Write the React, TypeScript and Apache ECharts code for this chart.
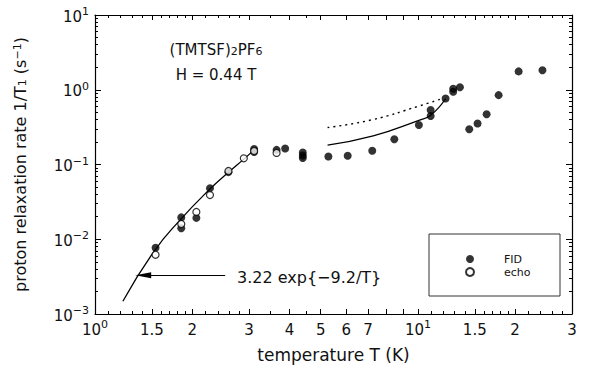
import React, { useEffect, useRef } from 'react';
import * as echarts from 'echarts';

// FID (filled) measurements: temperature (K), 1/T1 (s^-1)
const fidT = [1.54, 1.85, 1.85, 2.06, 2.27, 2.59, 3.11, 3.11, 3.65, 3.88, 4.4, 4.4, 4.4, 5.28, 6.06, 7.22, 8.45, 10.07, 10.95, 10.95, 12.18, 12.86, 12.86, 13.49, 14.42, 15.3, 16.32, 17.78, 20.5, 24.3];
const fidRate = [0.0077, 0.0196, 0.014, 0.0193, 0.048, 0.079, 0.161, 0.147, 0.157, 0.164, 0.145, 0.132, 0.122, 0.128, 0.131, 0.153, 0.218, 0.338, 0.445, 0.535, 0.765, 0.94, 1.03, 1.08, 0.296, 0.353, 0.469, 0.847, 1.76, 1.82];

// echo (open) measurements
const echoT = [1.54, 1.85, 2.06, 2.27, 2.59, 2.89, 3.11, 3.65];
const echoRate = [0.0062, 0.016, 0.0232, 0.039, 0.082, 0.121, 0.152, 0.143];

// fit curve 3.22 exp(-9.2/T)
const fitT = [1.22, 1.52, 1.83, 2.27, 2.59, 2.89, 3.11];
const fitRate = [0.00148, 0.0068, 0.0179, 0.047, 0.0787, 0.118, 0.157];

// upper solid and dotted curves
const solidT = [5.25, 7.27, 10.07, 10.95, 12.18];
const solidRate = [0.182, 0.241, 0.39, 0.455, 0.758];
const dotT = [5.25, 7.27, 10.07, 11.84];
const dotRate = [0.312, 0.4, 0.605, 0.758];

// annotation arrow
const arrowFromT = 2.53;
const arrowToT = 1.41;
const arrowRate = 0.0033;

// ticks
const xTickValues = [1, 1.5, 2, 3, 4, 5, 6, 7, 10, 15, 20, 30];
const xTickLabels = ['10^0', '1.5', '2', '3', '4', '5', '6', '7', '10^1', '1.5', '2', '3'];
const xMajorTicks = [1, 1.5, 2, 3, 4, 5, 6, 7, 8, 9, 10, 15, 20, 30];
const xMinorTicks = [1.1, 1.2, 1.3, 1.4, 1.6, 1.7, 1.8, 1.9, 2.2, 2.4, 2.6, 2.8, 3.5, 4.5, 11, 12, 13, 14, 16, 17, 18, 19, 22, 24, 26, 28];
const yTickValues = [0.001, 0.01, 0.1, 1, 10];
const yTickLabels = ['10^−3', '10^−2', '10^−1', '10^0', '10^1'];
const yMinorTicks = [0.002, 0.003, 0.004, 0.005, 0.006, 0.007, 0.008, 0.009, 0.02, 0.03, 0.04, 0.05, 0.06, 0.07, 0.08, 0.09, 0.2, 0.3, 0.4, 0.5, 0.6, 0.7, 0.8, 0.9, 2, 3, 4, 5, 6, 7, 8, 9];

const FONT = '"DejaVu Sans", "Liberation Sans", sans-serif';
const INK = '#111';

function toRich(label: string): string {
  const i = label.indexOf('^');
  if (i < 0) return '{b|' + label + '}';
  return '{b|' + label.slice(0, i) + '}{sup|' + label.slice(i + 1) + '}';
}

function lookup(values: number[], labels: string[], v: number): string {
  const i = values.findIndex((t) => Math.abs(t - v) / t < 1e-4);
  return i < 0 ? '' : toRich(labels[i]);
}

const labelRich = {
  b: { fontSize: 15, fontFamily: FONT, color: INK, lineHeight: 18, verticalAlign: 'bottom' },
  sup: { fontSize: 11, fontFamily: FONT, color: INK, lineHeight: 8, verticalAlign: 'top' },
};

export default function App() {
  const ref = useRef<HTMLDivElement>(null);
  useEffect(() => {
    if (!ref.current) return;
    const chart = echarts.init(ref.current, null, { renderer: 'svg' });
    const axisLine = { show: true, lineStyle: { color: '#000', width: 1.2 } };
    const mkX = (position: string, ticks: number[], len: number, labels: boolean, line: boolean) => ({
      type: 'log',
      logBase: 10,
      min: 1,
      max: 30,
      position,
      axisLine: line ? axisLine : { show: false },
      splitLine: { show: false },
      axisTick: { show: true, inside: true, length: len, customValues: ticks, lineStyle: { color: '#000', width: 1 } },
      axisLabel: labels
        ? {
            show: true,
            customValues: xTickValues,
            margin: 5,
            formatter: (v: number) => lookup(xTickValues, xTickLabels, v),
            rich: labelRich,
          }
        : { show: false },
    });
    const mkY = (position: string, ticks: number[], len: number, labels: boolean, line: boolean) => ({
      type: 'log',
      logBase: 10,
      min: 0.001,
      max: 10,
      position,
      axisLine: line ? axisLine : { show: false },
      splitLine: { show: false },
      axisTick: { show: true, inside: true, length: len, customValues: ticks, lineStyle: { color: '#000', width: 1 } },
      axisLabel: labels
        ? {
            show: true,
            customValues: yTickValues,
            margin: 6,
            formatter: (v: number) => lookup(yTickValues, yTickLabels, v),
            rich: labelRich,
          }
        : { show: false },
    });

    const xAxes: any[] = [
      {
        ...mkX('bottom', xMajorTicks, 5, true, true),
        name: 'temperature T (K)',
        nameLocation: 'middle',
        nameGap: 32,
        nameTextStyle: { fontSize: 17, fontFamily: FONT, color: INK },
      },
      mkX('bottom', xMinorTicks, 3, false, false),
      mkX('top', xMajorTicks, 5, false, true),
      mkX('top', xMinorTicks, 3, false, false),
    ];
    const yAxes: any[] = [
      {
        ...mkY('left', yTickValues, 6, true, true),
        name: 'proton relaxation rate 1/T{sub|1} (s{sup|−1})',
        nameLocation: 'middle',
        nameGap: 67,
        nameTextStyle: {
          fontSize: 16,
          fontFamily: FONT,
          color: INK,
          rich: {
            sub: { fontSize: 11, fontFamily: FONT, color: INK, lineHeight: 8, verticalAlign: 'bottom' },
            sup: { fontSize: 11, fontFamily: FONT, color: INK, lineHeight: 8, verticalAlign: 'top' },
          },
        },
      },
      mkY('left', yMinorTicks, 3, false, false),
      mkY('right', yTickValues, 6, false, true),
      mkY('right', yMinorTicks, 3, false, false),
    ];

    const zip = (a: number[], b: number[]) => a.map((v, i) => [v, b[i]]);

    chart.setOption({
      animation: false,
      backgroundColor: '#fff',
      grid: { left: 95, right: 18, top: 15, bottom: 52, containLabel: false },
      xAxis: xAxes,
      yAxis: yAxes,
      legend: {
        data: ['FID', 'echo'],
        orient: 'vertical',
        left: 465,
        top: 253,
        itemWidth: 8,
        itemHeight: 8,
        itemGap: 1,
        padding: 0,
        textStyle: { fontSize: 11, fontFamily: FONT, color: INK, lineHeight: 12, padding: [0, 0, 0, 25] },
      },
      graphic: [
        {
          type: 'rect',
          shape: { x: 429, y: 234, width: 131, height: 62 },
          style: { fill: 'none', stroke: '#333', lineWidth: 1 },
          silent: true,
        },
        {
          type: 'text',
          x: 216,
          y: 47,
          style: {
            text: '{n|(TMTSF)}{s|2}{n|PF}{s|6}',
            align: 'center',
            verticalAlign: 'middle',
            rich: {
              n: { fontSize: 15, fontFamily: FONT, fill: INK, lineHeight: 20, verticalAlign: 'bottom' },
              s: { fontSize: 11, fontFamily: FONT, fill: INK, lineHeight: 8, verticalAlign: 'bottom' },
            },
          },
        },
        {
          type: 'text',
          x: 216,
          y: 75,
          style: { text: 'H = 0.44 T', fontSize: 15, fontFamily: FONT, fill: INK, align: 'center', verticalAlign: 'middle' },
        },
        {
          type: 'text',
          x: 237,
          y: 277,
          style: { text: '3.22 exp{−9.2/T}', fontSize: 16, fontFamily: FONT, fill: INK, align: 'left', verticalAlign: 'middle' },
        },
      ],
      series: [
        {
          name: 'fit',
          type: 'line',
          data: zip(fitT, fitRate),
          smooth: true,
          showSymbol: false,
          lineStyle: { color: '#000', width: 1.3 },
          z: 2,
        },
        {
          name: 'upper',
          type: 'line',
          data: zip(solidT, solidRate),
          smooth: true,
          showSymbol: false,
          lineStyle: { color: '#000', width: 1.3 },
          z: 2,
        },
        {
          name: 'dotted',
          type: 'line',
          data: zip(dotT, dotRate),
          smooth: true,
          showSymbol: false,
          lineStyle: { color: '#000', width: 1.4, type: [2, 4] },
          z: 2,
        },
        {
          name: 'arrow',
          type: 'line',
          data: [],
          markLine: {
            silent: true,
            symbol: ['none', 'triangle'],
            symbolSize: [6, 16],
            label: { show: false },
            lineStyle: { color: '#000', width: 1, type: 'solid' },
            data: [[{ coord: [arrowFromT, arrowRate] }, { coord: [arrowToT, arrowRate] }]],
          },
        },
        {
          name: 'FID',
          type: 'scatter',
          data: zip(fidT, fidRate),
          symbol: 'circle',
          symbolSize: 8,
          itemStyle: { color: '#000' },
          z: 3,
        },
        {
          name: 'echo',
          type: 'scatter',
          data: zip(echoT, echoRate),
          symbol: 'circle',
          symbolSize: 7,
          itemStyle: { color: '#fff', borderColor: '#000', borderWidth: 1.2 },
          z: 4,
        },
      ],
    });
    return () => chart.dispose();
  }, []);
  return <div ref={ref} style={{ position: 'fixed', left: 0, top: 0, width: 590, height: 368 }} />;
}
